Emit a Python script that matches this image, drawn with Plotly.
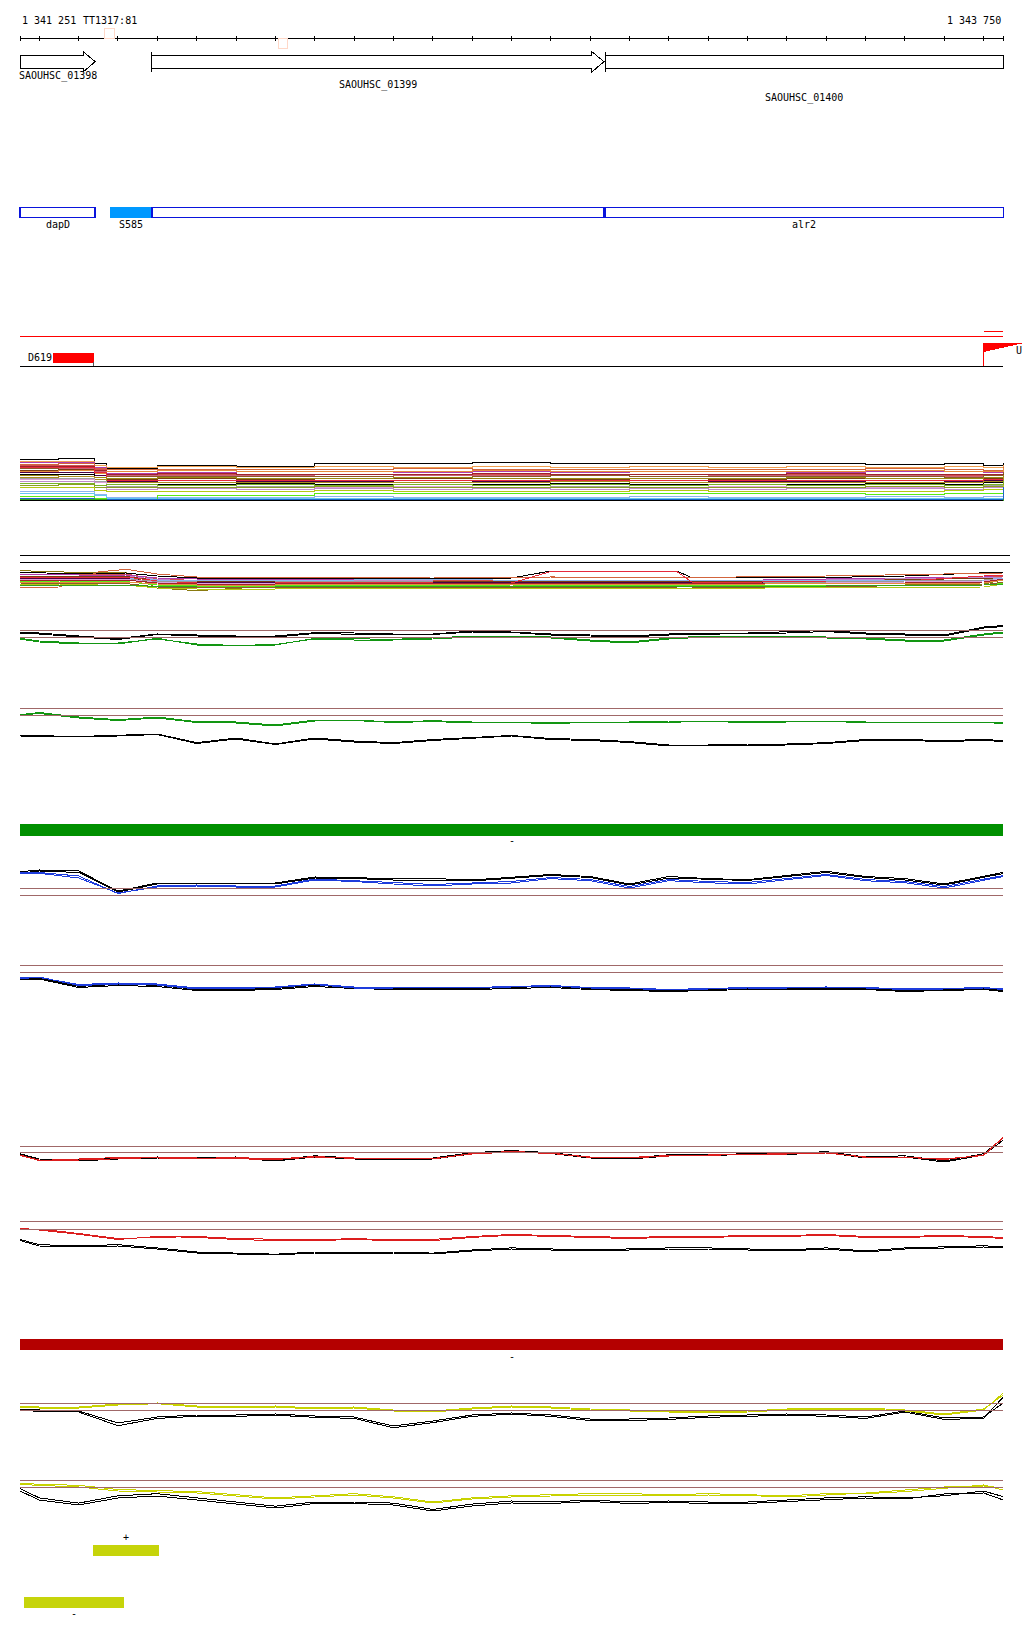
import plotly.graph_objects as go

# ======================= DATA =======================
VIEW_START = 1341251
VIEW_END = 1343750
RULER_LABEL_LEFT = "1 341 251"
RULER_LABEL_RIGHT = "1 343 750"
RULER_TAG = "TT1317:81"

# sampling positions (also ruler tick positions, every 100 bp)
POS = [1341251, 1341300, 1341400, 1341500, 1341600, 1341700, 1341800, 1341900, 1342000,
       1342100, 1342200, 1342300, 1342400, 1342500, 1342600, 1342700, 1342800, 1342900,
       1343000, 1343100, 1343200, 1343300, 1343400, 1343500, 1343600, 1343700, 1343750]

GENE_NAMES = ["SAOUHSC_01398", "SAOUHSC_01399", "SAOUHSC_01400"]
GENE_STARTS = [1341251, 1341586, 1342739]
GENE_ENDS = [1341442, 1342735, 1343750]
GENE_ARROW = [True, True, False]
GENE_STARTBAR = [False, True, True]

FEAT_NAMES = ["dapD", "S585", "", "alr2"]
FEAT_STARTS = [1341251, 1341482, 1341586, 1342739]
FEAT_ENDS = [1341442, 1341586, 1342735, 1343750]
FEAT_FILLED = [False, True, False, False]

TSS_NAME = "D619"
TSS_START, TSS_END = 1341337, 1341438
TSS2_START = 1343700
TSS2_LABEL = "U"

TT_MARKS = [(1341467, 1341490), (1341909, 1341930)]

# Panel A (many conditions), step lines
POS_A = [1341251, 1341350, 1341440, 1341470, 1341600, 1341800, 1342000, 1342200, 1342400,
         1342600, 1342800, 1343000, 1343200, 1343400, 1343600, 1343700, 1343750]
A_SERIES = [
    ("#000000", [46, 46.5, 42, 36.7, 40, 39, 42, 42, 42.5, 41.5, 41.5, 42, 41.5, 41, 41.5, 40, 42]),
    ("#f0a050", [44, 44, 40, 38, 38.5, 38, 38.5, 38, 38.5, 38, 38.5, 38, 38.5, 38, 38.5, 38, 40]),
    ("#b03cb0", [43, 43, 38, 32, 33, 33.5, 34, 33, 33.5, 33, 34, 33.5, 33, 33.5, 34, 33, 36]),
    ("#d2643c", [41, 41.5, 37, 35.5, 36, 35.5, 36, 36.5, 35.5, 36, 36, 35.5, 36, 36.5, 36, 35, 38]),
    ("#d25050", [40, 40, 36, 30, 30.5, 30, 30.5, 30, 30.5, 30, 30.5, 30, 30.5, 30, 30, 31, 35]),
    ("#a0232d", [39, 39, 35, 31, 31.5, 31, 30.5, 31, 31.5, 31, 30.5, 31, 31.5, 31, 30.5, 31, 34]),
    ("#c86478", [37, 37, 34, 29.5, 30, 29.5, 29, 29.5, 30, 29.5, 29, 29.5, 30, 29.5, 29, 30, 33]),
    ("#8c5a28", [36.5, 36, 33, 28.5, 29, 28.5, 29, 28, 29, 29.5, 28.5, 29, 28.5, 29, 28, 30, 33]),
    ("#7a3c14", [35, 35.5, 32, 26, 26.5, 26, 26.5, 27, 26.5, 26, 26.5, 26, 26.5, 27, 26.5, 27, 31]),
    ("#e68c3c", [34, 34.5, 32, 34, 34.5, 34, 33.5, 34, 34.5, 34, 34, 33.5, 34, 34.5, 34, 34, 37]),
    ("#4b0046", [33, 33, 30, 24, 24.5, 24, 24, 24.5, 24, 24, 24.5, 24, 24, 24.5, 24, 25, 28]),
    ("#e6283c", [38, 37.5, 33, 24.5, 25, 24.5, 25, 24.5, 25, 24.5, 25, 24.5, 25, 25, 24.5, 26, 30]),
    ("#9a8a10", [30, 30.5, 28, 27, 27.5, 27, 26.5, 27.5, 27, 27, 26.5, 27, 27.5, 27, 27, 28, 30]),
    ("#000000", [31, 31, 26, 21, 21, 21.5, 21, 20.5, 21, 21.5, 21, 21, 21, 21.5, 21, 23, 27]),
    ("#aa8c1e", [28, 28.5, 26, 22.5, 23, 22.5, 23, 22.5, 23, 23.5, 23, 22.5, 23, 22.5, 23, 24, 28]),
    ("#a0a0a0", [27, 27, 24, 19, 19.5, 19, 19.5, 19, 19.5, 19, 19.5, 19, 19.5, 19, 19.5, 20, 24]),
    ("#dca0dc", [26, 26, 23, 17.5, 18, 17.5, 18, 18.5, 18, 17.5, 18, 18.5, 18, 17.5, 18, 19, 23]),
    ("#c08ccc", [24, 23.5, 20, 16, 16.5, 16, 17, 16, 16.5, 16, 16.5, 16, 17, 16.5, 16, 18, 22]),
    ("#78b428", [22, 22, 20, 20.5, 20, 20.5, 20, 20.5, 20, 20.5, 20, 20.5, 20, 20.5, 20, 21, 24]),
    ("#8aa020", [20, 20.5, 18, 18, 17.5, 18, 18.5, 18, 17.5, 18, 18, 17.5, 18, 18.5, 18, 19, 22]),
    ("#b4c814", [18, 17.5, 15, 14, 13.5, 14, 14.5, 14, 13.5, 14, 14.5, 14, 13.5, 14, 14.5, 16, 20]),
    ("#8cb4f0", [14, 14, 11, 8, 7.5, 8, 8.5, 8, 7.5, 8, 8.5, 8, 8, 8.5, 8, 9, 14]),
    ("#64c8f0", [12, 12, 10, 6.5, 6.5, 7, 6.5, 7, 6.5, 7, 6.5, 7, 6.5, 7, 6.5, 7, 12]),
    ("#5aeb14", [9, 9, 7, 5, 10, 10, 12, 12, 11.5, 12, 11.5, 12, 12, 11, 12, 12, 16]),
    ("#1e64c8", [7, 7, 6, 5.5, 5.5, 5.5, 5.5, 5.5, 5.5, 5.5, 5.5, 5.5, 5.5, 5.5, 5.5, 5.5, 18]),
    ("#32a01e", [6, 6, 5.5, 4.5, 4.5, 5, 5, 5, 5, 5, 5, 5, 5, 5, 5, 5, 6]),
]

# Panel B
POS_B = [1341251, 1341350, 1341450, 1341520, 1341600, 1341700, 1341900, 1342100, 1342300,
         1342500, 1342600, 1342920, 1342960, 1343300, 1343500, 1343700, 1343750]
B_SERIES = [
    ("#8a7a10", [29.3, 28.5, 27, 27.5, 12, 9.3, 14, 15, 14, 15, 15, 14.5, 14.5, 14, 15, 16, 20]),
    ("#000000", [27.5, 27, 26, 27, 24, 22, 22, 22, 21.5, 22, 29, 29, 22, 22.5, 24, 27, 28]),
    ("#d2643c", [12, 13, 28, 30.7, 26, 23, 23, 22.5, 23, 22, 23, 22.5, 22.5, 24, 25, 26, 27]),
    ("#d25050", [26, 26, 25.5, 26, 21, 19.5, 19.5, 19, 19.5, 19.5, 19, 19.5, 19.5, 20, 21, 23, 24]),
    ("#b03cb0", [25, 25.5, 24.5, 25, 22, 21, 21, 20.5, 21, 21, 20.5, 21, 21, 21, 22, 23, 25]),
    ("#c08ccc", [24, 24, 23.5, 24, 20.5, 19, 19, 19.5, 19, 19, 19.5, 19, 19, 20, 21, 22, 23]),
    ("#7a3c14", [23.5, 23.5, 23, 23.5, 19.5, 18.5, 18.5, 18, 18.5, 18.5, 18, 18.5, 18.5, 19, 20, 21, 22]),
    ("#8cb4f0", [22, 22, 21.5, 22, 20, 20, 19.5, 20, 20.5, 20, 19.5, 20, 20, 20, 20, 20, 22]),
    ("#4b0046", [21.5, 21.5, 21, 21.5, 18, 17.5, 17.5, 17, 17.5, 17.5, 17, 17.5, 17.5, 17.5, 18, 19, 20]),
    ("#e6283c", [23, 23, 22.5, 23, 19, 17, 17, 17.5, 17, 17, 28.5, 28.5, 17.5, 18.5, 19, 24, 25]),
    ("#999999", [21, 21, 20.5, 21, 18.5, 18, 18, 18.5, 18, 18, 18.5, 18, 18, 18, 19, 20, 21]),
    ("#dca0dc", [20.5, 20.5, 20, 20.5, 17.5, 16.5, 16.5, 16, 16.5, 16.5, 16, 16.5, 16.5, 17, 18, 19, 21]),
    ("#a0232d", [20, 20, 19.5, 20, 17, 16, 16, 16.5, 16, 16, 16.5, 16, 16, 16.5, 17, 18, 21]),
    ("#5aeb14", [19, 19, 18, 18.5, 15, 14, 14, 14.5, 14, 15, 14.5, 14, 14, 14.5, 15, 15, 17]),
    ("#e68c3c", [18, 18, 17.5, 18, 16, 15, 15, 15.5, 15, 15.5, 15, 15.5, 15.5, 16.5, 17, 17, 20]),
    ("#8c5a28", [17, 16.5, 16, 16.5, 13, 12, 12.5, 12, 12.5, 12, 12.5, 12, 12, 13.5, 14, 15, 18]),
    ("#b4c814", [16, 16, 15, 15, 12, 11, 11, 11.5, 11, 11.5, 11, 11.5, 11.5, 12.5, 13, 13, 16]),
    ("#32a01e", [15, 15, 14.5, 15, 13.5, 13, 13, 13, 13.5, 13, 13, 13.5, 13.5, 14, 14.5, 15, 16]),
]

# Paired profile panels (colored condition + black reference, two replicates each)
C_green = [16.7, 14, 12, 11, 16.7, 10, 10, 10, 16.7, 16, 15.7, 17, 19, 19, 18, 15, 13, 17, 19, 19, 19, 18, 17, 15, 15, 21, 23]
C_green2 = [16, 13, 11, 12, 16, 11, 9.5, 10.5, 16, 15, 15, 16, 18, 18.5, 17, 14, 12, 16, 18, 18, 18.5, 17, 16, 14, 14, 20, 22]
C_black = [22.7, 22, 19, 16.5, 21, 20, 19, 19, 22.3, 22, 21, 21, 24, 23, 21, 20, 19, 21, 22, 22, 23, 24.5, 22, 21, 20, 28, 29.5]
C_black2 = [22, 21, 18, 15.5, 20.5, 19, 18.5, 18, 21.5, 21, 20, 20.5, 23, 22.5, 20, 19, 18, 20, 21, 21.5, 22, 23.5, 21, 20, 19, 27, 28.5]

D_green = [35.3, 37.5, 33, 30.3, 33, 28.3, 28, 25, 30, 30, 28, 29.3, 28, 28, 27, 28, 28, 29, 29, 28, 29, 29, 28, 28, 28, 28, 27]
D_green2 = [35, 36.5, 32, 29.5, 32, 27.5, 27, 24, 29, 29.5, 27.5, 28.5, 27, 27.5, 26.5, 27.5, 27, 28, 28.5, 27.5, 28, 28.5, 27.5, 27.5, 27, 27.5, 26.5]
D_black = [14, 14.3, 13.5, 14.5, 16, 7.3, 12, 6, 12, 9, 7.3, 10.5, 12.5, 14.5, 11.5, 10.5, 8.4, 5, 5, 6, 6, 7.3, 10.5, 10.5, 9.4, 10.5, 9.4]
D_black2 = [14, 13.5, 13, 14, 15.5, 6.5, 11, 5.5, 11, 8, 6.5, 9.5, 12, 14, 10.5, 9.5, 7.5, 4, 4.5, 5, 5, 6.5, 9.5, 9.5, 8.5, 9.5, 8.5]

E_blue = [26, 26.7, 22, 7, 13, 14, 13, 13, 20, 18.5, 16, 14, 16, 17, 21.4, 19.3, 12, 19.3, 17.2, 16, 20.3, 24.5, 19.3, 17.2, 12, 19.3, 23.5]
E_blue2 = [27, 27.5, 24, 6.5, 14, 15, 14, 14, 21, 19.5, 17.5, 15.5, 17, 18.5, 22.5, 20.5, 13.5, 20.5, 18.5, 17.5, 21.5, 25.5, 20.5, 18.5, 13.5, 20.5, 24.5]
E_black = [28.3, 30, 29, 9, 17, 17, 17, 17, 23, 22.5, 21, 21.5, 20, 23, 25.5, 23.5, 16, 23.5, 21.4, 20.3, 24.5, 28.7, 23.5, 21.4, 16, 23.5, 27.6]
E_black2 = [27, 29, 27.5, 8, 16, 16.5, 16, 16, 22, 21.5, 20, 20, 19, 22, 24.5, 22.5, 15, 22, 20.5, 19.5, 23.5, 27.5, 22.5, 20, 15, 22.5, 26.5]

F_blue = [27, 28, 19.5, 21, 20, 16, 16.5, 17.5, 20.5, 17, 17, 17.5, 17, 18, 19, 17, 16.5, 15, 16, 17, 17, 17.5, 17, 15.5, 16, 17, 15.5]
F_blue2 = [26.5, 27.5, 20.5, 22, 21, 17, 17.5, 18, 21, 18, 18, 18, 17.5, 18.5, 19.5, 17.5, 17, 15.5, 16.5, 17.5, 17.5, 18, 17.5, 16, 16.5, 17.5, 16]
F_black = [26, 27, 18.6, 20.7, 19.7, 15.5, 15.5, 16.5, 19.7, 17.6, 16.5, 16.5, 16.5, 17.6, 18.6, 16.5, 15.5, 14.4, 15.5, 16.5, 16.5, 16.5, 16.5, 14.4, 15.5, 16.5, 14.4]
F_black2 = [25, 26, 17.5, 19.5, 18.5, 14.5, 14.5, 15.5, 18.5, 16.5, 15.5, 15.5, 15.5, 16.5, 17.5, 15.5, 14.5, 13.5, 14.5, 15.5, 15.5, 15.5, 15.5, 13.5, 14.5, 15.5, 13.5]

G_red = [20, 14.5, 16, 17.5, 17, 16.5, 17.5, 16, 18.5, 16.5, 16.5, 16, 21.5, 23.5, 22, 17.5, 17.5, 19.5, 19.5, 21, 21, 22.5, 17.5, 18, 15.5, 20, 38]
G_red2 = [19.5, 15, 15, 16.5, 17.5, 17, 16.5, 15.5, 18, 17, 17, 16.5, 21, 23, 21.5, 18, 17, 19, 20, 20.5, 21.5, 22, 18, 17.5, 16, 19.5, 37.5]
G_black = [21.3, 16, 15, 17, 18, 17, 18, 15, 19.2, 17, 16, 17, 22.3, 24.4, 22.3, 18, 17, 20.2, 20.2, 21.3, 21.3, 23.4, 18, 19.2, 14, 21.3, 37]
G_black2 = [20.5, 15, 14, 16, 17, 16, 17, 14, 18, 16, 15, 16, 21, 23.5, 21.5, 17, 16, 19, 19.5, 20.5, 20.5, 22.5, 17, 18, 13, 20, 35]

H_red = [37, 35, 30.7, 25.5, 28.6, 27.6, 25.5, 24.4, 24.4, 25.5, 24.4, 24.4, 27.6, 29.7, 28.6, 27.6, 26.5, 27.6, 27.6, 28.6, 28.6, 29.7, 27.6, 27.6, 28.6, 27.6, 26.5]
H_red2 = [36, 36, 31.5, 26.5, 27.5, 28.5, 26.5, 25.5, 25, 26.5, 25, 25.5, 28.5, 30.5, 29.5, 28.5, 27.5, 28.5, 28.5, 29.5, 29.5, 30.5, 28.5, 28.5, 29.5, 28.5, 27.5]
H_black = [25.5, 20.3, 19.2, 20.3, 17.1, 13, 11.9, 10.8, 13, 13, 13, 11.9, 15, 17.1, 16.1, 15, 16.1, 17.1, 17.1, 16.1, 15, 17.1, 14, 17.1, 18.2, 19.2, 18.2]
H_black2 = [24.5, 19, 18, 19, 16, 12, 11, 10, 12, 12, 12, 11, 14, 16, 15, 14, 15, 16, 16, 15, 14, 16, 13, 16, 17, 18, 17]

I_yellow = [33, 32, 32, 35, 36.3, 33, 32, 33, 31, 32, 29, 28, 31, 33, 32, 30, 29, 28, 27, 28, 30, 31, 31, 29, 25, 30, 47]
I_yellow2 = [34, 33, 33, 36, 37, 34, 33, 34, 32, 33, 30, 29, 32, 34, 33, 31, 30, 29, 28, 29, 31, 32, 32, 30, 26, 31, 45]
I_black = [31, 30, 28, 14.3, 21.6, 23.7, 23.7, 24.8, 22.7, 21.6, 12.2, 17.4, 23.7, 25.8, 23.7, 19.5, 19.5, 20.6, 22.7, 23.7, 24.8, 23.7, 21.6, 27.9, 20.6, 21.6, 43]
I_black2 = [30, 28.5, 29, 17, 23, 25, 25, 26, 24, 23, 14, 19, 25, 27, 25, 21, 21, 22, 24, 25, 26, 25, 23, 29, 22, 23, 37]

J_yellow = [36.8, 35.7, 34.7, 30.5, 29.4, 28.4, 25.3, 22.1, 24.2, 26.3, 23.2, 18, 22.1, 24.2, 25.3, 26.3, 26.3, 25.3, 26.3, 25.3, 24.2, 26.3, 26.3, 28.4, 31.5, 35, 30]
J_yellow2 = [35.5, 34.5, 33, 29, 28, 27, 24, 21, 23, 25, 22, 17, 21, 23, 24, 25, 25, 24, 25, 24.5, 23, 25, 27, 30, 33, 34, 32]
J_black = [31.5, 22.1, 16.9, 24.2, 26.3, 22.1, 18, 13.8, 18, 18, 16.9, 10.6, 15.9, 19, 18, 20, 18, 19, 18, 18, 20, 22.1, 23.2, 22.1, 24.2, 29, 23.3]
J_black2 = [29, 20, 15, 22, 24, 20, 16, 12, 16.5, 16.5, 15, 9, 14, 17, 16.5, 18.5, 16.5, 17.5, 16.5, 16.5, 18.5, 20.5, 22, 21, 26, 27, 20]

# reference (threshold) levels per panel
THRESH = {"C": [24.7, 17.7], "D": [41.7, 34.7], "E": [11.7, 4.7], "F": [39.5, 32.5],
          "G": [28.5, 22.3], "H": [43.3, 36.0], "I": [36.7, 29.7], "J": [40.0, 32.7]}

# strand coverage bars
BAR_GREEN = (1341251, 1343750)
BAR_RED = (1341251, 1343750)
BAR_YELLOW_PLUS = (1341437, 1341604)
BAR_YELLOW_MINUS = (1341261, 1341515)

# ======================= LAYOUT / STYLE =======================
W, H = 1024, 1640
PLOT_L, PLOT_R = 20, 1003.3
BPP = (VIEW_END - VIEW_START) / (PLOT_R - PLOT_L)
FONT = dict(family="DejaVu Sans Mono", size=10, color="#000000")
BROWN = "#a06868"


def yp(px):
    return 1 - px / H


def gx(px):
    return VIEW_START + (px - PLOT_L) * BPP


PANEL_BOTTOM = {"A": 505, "B": 600, "C": 655, "D": 750, "E": 900, "F": 1005,
                "G": 1175, "H": 1265, "I": 1440, "J": 1520}
PANEL_HEIGHT = 60
PANEL_AXIS = {}

fig = go.Figure()
layout = dict(
    width=W, height=H, margin=dict(l=0, r=0, t=0, b=0),
    paper_bgcolor="white", plot_bgcolor="white", showlegend=False,
    xaxis=dict(range=[gx(0), gx(W)], domain=[0, 1], visible=False, fixedrange=True),
    yaxis=dict(range=[0, 1], domain=[0, 0.001], visible=False, fixedrange=True),
)
for i, (key, bottom) in enumerate(PANEL_BOTTOM.items()):
    n = i + 2
    PANEL_AXIS[key] = "y%d" % n
    layout["yaxis%d" % n] = dict(
        domain=[yp(bottom), yp(bottom - PANEL_HEIGHT)], range=[0, PANEL_HEIGHT],
        visible=False, anchor="x", fixedrange=True)
fig.update_layout(**layout)


def add_line(panel, xs, ys, color, shape="linear"):
    fig.add_trace(go.Scatter(x=xs, y=ys, mode="lines", yaxis=PANEL_AXIS[panel],
                             line=dict(color=color, width=1, shape=shape),
                             hoverinfo="skip"))


shapes = []
annots = []


def line_shape(x0, y0, x1, y1, color, width=1, xref="x", yref="paper"):
    shapes.append(dict(type="line", x0=x0, y0=y0, x1=x1, y1=y1, xref=xref, yref=yref,
                       line=dict(color=color, width=width)))


def rect_shape(x0, y0, x1, y1, line_color, fill, width=1, xref="x", yref="paper"):
    shapes.append(dict(type="rect", x0=x0, y0=y0, x1=x1, y1=y1, xref=xref, yref=yref,
                       line=dict(color=line_color, width=width), fillcolor=fill))


def text(x, y, s, xanchor="center", xref="x"):
    annots.append(dict(x=x, y=y, xref=xref, yref="paper", text=s, showarrow=False,
                       xanchor=xanchor, yanchor="middle", font=FONT))


# ---- ruler ----
RULER_Y = 38.3
line_shape(VIEW_START, yp(RULER_Y), VIEW_END, yp(RULER_Y), "#000000")
for p in POS:
    line_shape(p, yp(RULER_Y - 2.5), p, yp(RULER_Y + 2.5), "#000000")
text(VIEW_START, yp(20.5), RULER_LABEL_LEFT, xanchor="left")
text(gx(81), yp(20.5), RULER_TAG, xanchor="left")
text(VIEW_END, yp(20.5), RULER_LABEL_RIGHT, xanchor="right")
rect_shape(TT_MARKS[0][0], yp(38.3), TT_MARKS[0][1], yp(28), "#ffd8c8", "rgba(255,255,255,0)")
rect_shape(TT_MARKS[1][0], yp(48.3), TT_MARKS[1][1], yp(38.3), "#ffd8c8", "rgba(255,255,255,0)")

# ---- genes ----
G_TOP, G_BOT, G_HT, G_HB = 55, 68.3, 51.7, 72
G_MID = (G_TOP + G_BOT) / 2
HEAD = 12 * BPP
GENE_LABEL_Y = [76, 85, 97.5]
for name, s, e, arrow, sbar, ly in zip(GENE_NAMES, GENE_STARTS, GENE_ENDS, GENE_ARROW,
                                       GENE_STARTBAR, GENE_LABEL_Y):
    if arrow:
        h = e - HEAD
        path = ("M {s},{t} L {h},{t} L {h},{ht} L {e},{m} L {h},{hb} L {h},{b} L {s},{b} Z"
                .format(s=s, h=h, e=e, t=yp(G_TOP), b=yp(G_BOT), ht=yp(G_HT),
                        hb=yp(G_HB), m=yp(G_MID)))
        shapes.append(dict(type="path", path=path, xref="x", yref="paper",
                           line=dict(color="#000000", width=1), fillcolor="white"))
    else:
        rect_shape(s, yp(G_BOT), e, yp(G_TOP), "#000000", "white")
    if sbar:
        line_shape(s, yp(G_HT), s, yp(G_HB), "#000000")
    text((s + e) / 2, yp(ly), name)

# ---- features (blue boxes) ----
F_TOP, F_BOT = 207.3, 217.3
for name, s, e, filled in zip(FEAT_NAMES, FEAT_STARTS, FEAT_ENDS, FEAT_FILLED):
    if filled:
        rect_shape(s, yp(F_BOT), e, yp(F_TOP), "#0099ff", "#0099ff")
    else:
        rect_shape(s, yp(F_BOT), e, yp(F_TOP), "#0a14dc", "rgba(255,255,255,0)", width=1.5)
    if name:
        text((s + e) / 2, yp(224), name)

# ---- TSS track ----
line_shape(VIEW_START, yp(336), VIEW_END, yp(336), "#ff0000")
line_shape(TSS2_START, yp(331), VIEW_END, yp(331), "#ff0000")
line_shape(VIEW_START, yp(366), VIEW_END, yp(366), "#000000")
rect_shape(TSS_START, yp(362), TSS_END, yp(353.3), "#ff0000", "#ff0000")
line_shape(TSS_END, yp(362), TSS_END, yp(366), "#555555")
text(TSS_START, yp(358), TSS_NAME, xanchor="right")
wedge = "M {a},{t} L {b},{t} L {a},{m} Z".format(a=TSS2_START, b=gx(1022), t=yp(343), m=yp(351.5))
shapes.append(dict(type="path", path=wedge, xref="x", yref="paper",
                   line=dict(color="#ff0000", width=1), fillcolor="#ff0000"))
line_shape(TSS2_START, yp(343), TSS2_START, yp(366), "#ff0000")
text(gx(1013.5), yp(351), TSS2_LABEL, xanchor="left")

# ---- panel A ----
for color, vals in A_SERIES:
    add_line("A", POS_A, vals, color, shape="hv")
line_shape(VIEW_START, 5, VIEW_END, 5, "#000000", yref=PANEL_AXIS["A"])

# ---- panel B ----
line_shape(PLOT_L / W, yp(555), 1010 / W, yp(555), "#000000", xref="paper")
line_shape(PLOT_L / W, yp(562), 1010 / W, yp(562), "#000000", xref="paper")
for color, vals in B_SERIES:
    add_line("B", POS_B, vals, color)

# ---- paired panels ----
GREEN, BLUE, RED, YELLOW = "#129612", "#1e3cdc", "#dc1e1e", "#c8d200"
PAIRS = [("C", GREEN, C_green, C_green2, C_black, C_black2),
         ("D", GREEN, D_green, D_green2, D_black, D_black2),
         ("E", BLUE, E_blue, E_blue2, E_black, E_black2),
         ("F", BLUE, F_blue, F_blue2, F_black, F_black2),
         ("G", RED, G_red, G_red2, G_black, G_black2),
         ("H", RED, H_red, H_red2, H_black, H_black2),
         ("I", YELLOW, I_yellow, I_yellow2, I_black, I_black2),
         ("J", YELLOW, J_yellow, J_yellow2, J_black, J_black2)]
for key, col, c1, c2, b1, b2 in PAIRS:
    for lv in THRESH[key]:
        line_shape(VIEW_START, lv, VIEW_END, lv, BROWN, yref=PANEL_AXIS[key])
    add_line(key, POS, b1, "#000000")
    add_line(key, POS, b2, "#000000")
    add_line(key, POS, c1, col)
    add_line(key, POS, c2, col)

# ---- strand bars ----
rect_shape(BAR_GREEN[0], yp(836), BAR_GREEN[1], yp(824), "#009000", "#009000", width=0)
text((BAR_GREEN[0] + BAR_GREEN[1]) / 2, yp(840), "-")
rect_shape(BAR_RED[0], yp(1350), BAR_RED[1], yp(1339), "#b40000", "#b40000", width=0)
text((BAR_RED[0] + BAR_RED[1]) / 2, yp(1356), "-")
rect_shape(BAR_YELLOW_PLUS[0], yp(1556), BAR_YELLOW_PLUS[1], yp(1545), "#c6d40a", "#c6d40a", width=0)
text((BAR_YELLOW_PLUS[0] + BAR_YELLOW_PLUS[1]) / 2, yp(1537), "+")
rect_shape(BAR_YELLOW_MINUS[0], yp(1608), BAR_YELLOW_MINUS[1], yp(1597), "#c6d40a", "#c6d40a", width=0)
text((BAR_YELLOW_MINUS[0] + BAR_YELLOW_MINUS[1]) / 2, yp(1613), "-")

fig.update_layout(shapes=shapes, annotations=annots)
fig.write_html(
    "out.html", config={"displayModeBar": False},
    post_script=("document.body.style.margin='0';document.body.style.overflow='hidden';"
                 "document.querySelectorAll('.scatterlayer path, .shapelayer path')"
                 ".forEach(function(p){p.style.shapeRendering='crispEdges';});"))
